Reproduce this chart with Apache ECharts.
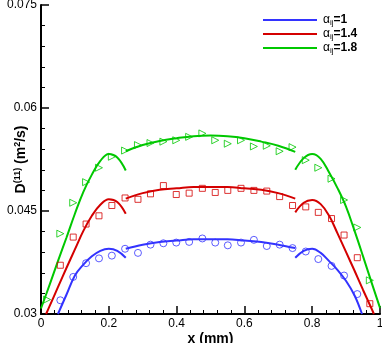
<!DOCTYPE html>
<html>
<head>
<meta charset="utf-8">
<script src="https://cdn.jsdelivr.net/npm/echarts@6/dist/echarts.min.js"></script>
<style>html,body{margin:0;padding:0;background:#fff}#c{width:382px;height:343px}</style>
</head>
<body>
<div id="c"></div>
<script>
// ---- data ----
const legendLabels = ['1', '1.4', '1.8'];
const colors = ['#3333ff', '#d40000', '#00c800'];

// marker positions (mm)
const markerX = [0.018, 0.057, 0.095, 0.133, 0.171, 0.209, 0.248, 0.286, 0.323, 0.361, 0.399, 0.437, 0.476,
  0.514, 0.551, 0.590, 0.628, 0.666, 0.704, 0.742, 0.781, 0.818, 0.857, 0.894, 0.933, 0.970];
const blueMarkers = [null, 0.0320, 0.0354, 0.0374, 0.0381, 0.0385, 0.0395, 0.0389, 0.0401, 0.0403, 0.0404, 0.0405, 0.0410,
  0.0404, 0.0400, 0.0404, 0.0408, 0.0399, 0.0401, 0.0396, 0.0391, 0.0380, 0.0370, 0.0356, 0.0329, null];
const redMarkers = [null, 0.0371, 0.0412, 0.0431, 0.0443, 0.0458, 0.0469, 0.0467, 0.0475, 0.0487, 0.0474, 0.0476, 0.0483,
  0.0477, 0.0480, 0.0483, 0.0480, 0.0479, 0.0471, 0.0458, 0.0456, 0.0448, 0.0439, 0.0415, 0.0382, 0.0315];
const greenMarkers = [0.0321, 0.0417, 0.0462, 0.0492, 0.0513, 0.0529, 0.0538, 0.0546, 0.0549, 0.0551, 0.0553, 0.0558, 0.0563,
  0.0553, 0.0548, 0.0553, 0.0544, 0.0545, 0.0537, 0.0543, 0.0524, 0.0513, 0.0497, 0.0466, 0.0426, 0.0349];

// curves: three segments per series
const blueLeftX = [0.05, 0.075, 0.1, 0.125, 0.15, 0.175, 0.2, 0.225, 0.25];
const blueLeftY = [0.0300, 0.0328, 0.0356, 0.0372, 0.0384, 0.0392, 0.0395, 0.0392, 0.0382];
const redLeftX = [0.015, 0.025, 0.05, 0.075, 0.1, 0.125, 0.15, 0.175, 0.2, 0.225, 0.25];
const redLeftY = [0.0300, 0.0311, 0.0339, 0.0367, 0.0394, 0.0421, 0.0443, 0.0459, 0.0467, 0.0463, 0.0446];
const greenLeftX = [0, 0.025, 0.05, 0.075, 0.1, 0.125, 0.15, 0.175, 0.2, 0.225, 0.25];
const greenLeftY = [0.0308, 0.0342, 0.0377, 0.0411, 0.0446, 0.0478, 0.0503, 0.0523, 0.0533, 0.0528, 0.0509];

const midX = [0.25, 0.3, 0.35, 0.4, 0.45, 0.5, 0.55, 0.6, 0.65, 0.7, 0.75];
const blueMidY = [0.0395, 0.0401, 0.0405, 0.0407, 0.0409, 0.0409, 0.0409, 0.0407, 0.0405, 0.0401, 0.0396];
const redMidY = [0.0468, 0.0476, 0.0481, 0.0483, 0.0485, 0.0485, 0.0485, 0.0483, 0.0481, 0.0476, 0.0468];
const greenMidY = [0.0537, 0.0546, 0.0552, 0.0556, 0.0559, 0.0560, 0.0559, 0.0556, 0.0551, 0.0545, 0.0536];

const blueRightX = [0.75, 0.775, 0.8, 0.825, 0.85, 0.875, 0.9, 0.925, 0.947];
const blueRightY = [0.0382, 0.0392, 0.0395, 0.0389, 0.0377, 0.0364, 0.0348, 0.0327, 0.0300];
const redRightX = [0.75, 0.775, 0.8, 0.825, 0.85, 0.875, 0.9, 0.925, 0.95, 0.975, 0.982];
const redRightY = [0.0448, 0.0462, 0.0466, 0.0460, 0.0443, 0.0417, 0.0390, 0.0363, 0.0335, 0.0308, 0.0300];
const greenRightX = [0.75, 0.775, 0.8, 0.825, 0.85, 0.875, 0.9, 0.925, 0.95, 0.975, 1.0];
const greenRightY = [0.0510, 0.0527, 0.0533, 0.0526, 0.0506, 0.0483, 0.0456, 0.0421, 0.0384, 0.0346, 0.0309];

// ---- build ----
const pairs = (xs, ys) => xs.map((x, i) => [x, ys[i]]).filter(p => p[1] !== null);
const FONT = 'Liberation Sans, Arial, sans-serif';

const groups = [
  { segs: [[blueLeftX, blueLeftY], [midX, blueMidY], [blueRightX, blueRightY]], markers: blueMarkers, symbol: 'circle', size: 7, rot: 0 },
  { segs: [[redLeftX, redLeftY], [midX, redMidY], [redRightX, redRightY]], markers: redMarkers, symbol: 'rect', size: 6, rot: 0 },
  { segs: [[greenLeftX, greenLeftY], [midX, greenMidY], [greenRightX, greenRightY]], markers: greenMarkers, symbol: 'triangle', size: 7, rot: -90 }
];

const series = [];
groups.forEach((g, gi) => {
  const name = legendLabels[gi];
  g.segs.forEach(s => {
    series.push({
      name, type: 'line', data: pairs(s[0], s[1]), smooth: 0.4, showSymbol: false, symbol: 'none',
      lineStyle: { color: colors[gi], width: 2 }, itemStyle: { color: colors[gi] }, clip: true, z: 2
    });
  });
  series.push({
    name, type: 'scatter', data: pairs(markerX, g.markers), symbol: g.symbol, symbolSize: g.size, symbolRotate: g.rot,
    itemStyle: { color: 'rgba(0,0,0,0)', borderColor: colors[gi], borderWidth: 1 }, clip: true, z: 3
  });
});

const chart = echarts.init(document.getElementById('c'), null, { renderer: 'canvas' });
chart.setOption({
  animation: false,
  backgroundColor: '#fff',
  textStyle: { fontFamily: FONT },
  grid: { left: 41, right: 2, top: 5, bottom: 29, containLabel: false, outerBoundsMode: 'none' },
  legend: {
    orient: 'vertical', left: 258, top: 9, icon: 'rect', itemWidth: 54, itemHeight: 2, itemGap: 1,
    data: legendLabels,
    formatter: n => '{a|α}{s|ij}{b|=' + n + '}',
    textStyle: {
      fontFamily: FONT, color: '#000',
      rich: {
        a: { fontSize: 12, fontFamily: FONT, color: '#000', padding: [0, 0, 0, 1], lineHeight: 14 },
        s: { fontSize: 8, fontFamily: FONT, color: '#000', verticalAlign: 'bottom', lineHeight: 10, padding: [4, 0, 0, 0] },
        b: { fontSize: 12, fontWeight: 'bold', fontFamily: FONT, color: '#000', lineHeight: 14 }
      }
    }
  },
  xAxis: {
    type: 'value', min: 0, max: 1, interval: 0.2,
    name: 'x (mm)', nameLocation: 'middle', nameGap: 18, nameMoveOverlap: false,
    nameTextStyle: { fontSize: 14, fontWeight: 'bold', color: '#000', fontFamily: FONT },
    axisLine: { show: true, onZero: false, lineStyle: { color: '#000', width: 2 } },
    axisTick: { show: true, inside: true, length: 8, lineStyle: { color: '#000', width: 1.5 } },
    minorTick: { show: true, splitNumber: 5, length: 4, lineStyle: { color: '#000', width: 1 } },
    splitLine: { show: false },
    axisLabel: { fontSize: 12, color: '#000', margin: 4, fontFamily: FONT }
  },
  yAxis: {
    type: 'value', min: 0.03, max: 0.075, interval: 0.015,
    name: '{b|D}{sup|(11)}{b| (m}{sup|2}{b|/s)}', nameLocation: 'middle', nameGap: 12, nameRotate: 90, nameMoveOverlap: false,
    nameTextStyle: {
      fontSize: 14, fontWeight: 'bold', color: '#000', fontFamily: FONT,
      rich: {
        b: { fontSize: 14, fontWeight: 'bold', color: '#000', fontFamily: FONT, lineHeight: 16 },
        sup: { fontSize: 9, fontWeight: 'bold', color: '#000', fontFamily: FONT, verticalAlign: 'top', lineHeight: 10 }
      }
    },
    axisLine: { show: true, onZero: false, lineStyle: { color: '#000', width: 2 } },
    axisTick: { show: true, inside: true, length: 8, lineStyle: { color: '#000', width: 1.5 } },
    minorTick: { show: true, splitNumber: 5, length: 4, lineStyle: { color: '#000', width: 1 } },
    splitLine: { show: false },
    axisLabel: { fontSize: 12, color: '#000', margin: 4, fontFamily: FONT }
  },
  series
});
</script>
</body>
</html>
